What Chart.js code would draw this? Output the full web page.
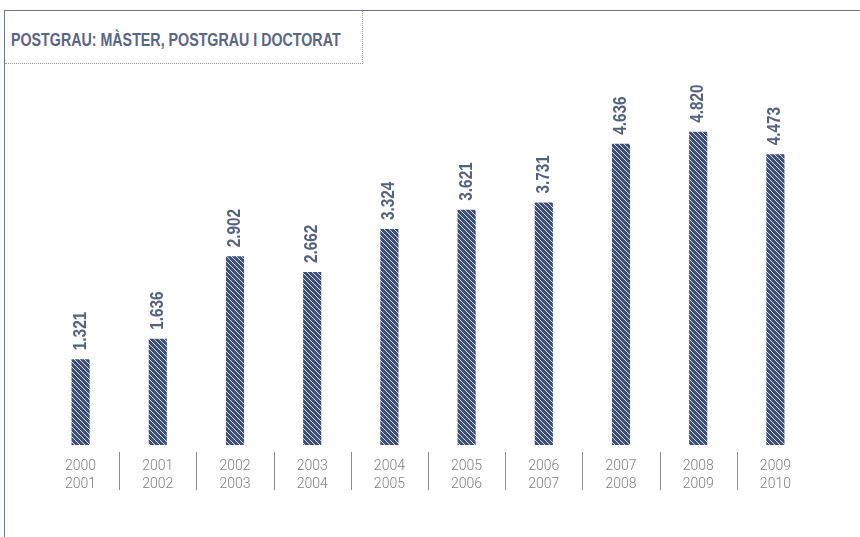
<!DOCTYPE html>
<html>
<head>
<meta charset="utf-8">
<script src="https://cdn.jsdelivr.net/npm/chart.js@4/dist/chart.umd.min.js"></script>
<style>
  html, body { margin: 0; padding: 0; background: #ffffff; }
  #wrap { position: relative; width: 860px; height: 537px; overflow: hidden; }
  #frameTop { position: absolute; left: 4px; top: 10px; width: 856px; height: 0; border-top: 1px solid #6d7391; }
  #frameLeft { position: absolute; left: 4px; top: 10px; width: 0; height: 527px; border-left: 1px solid #6d7391; }
  #titleBox { position: absolute; left: 5px; top: 11px; width: 357px; height: 52px;
              border-right: 1px dotted #9a9a9a; border-bottom: 1px dotted #9a9a9a; }
  #title { position: absolute; left: 11px; top: 30px; margin: 0; line-height: 19px;
           font-family: "Liberation Sans", Arial, sans-serif;
           font-weight: bold; font-size: 19px; color: #5b6585; white-space: nowrap;
           transform: scaleX(0.75); transform-origin: left center; }
  canvas { position: absolute; left: 0; top: 0; }
</style>
</head>
<body>
<div id="wrap">
  <div id="frameTop"></div>
  <div id="frameLeft"></div>
  <div id="titleBox"></div>
  <div id="title">POSTGRAU: MÀSTER, POSTGRAU I DOCTORAT</div>
  <canvas id="c" width="860" height="537"></canvas>
</div>
<script>
const categories = [
  ["2000", "2001"], ["2001", "2002"], ["2002", "2003"], ["2003", "2004"], ["2004", "2005"],
  ["2005", "2006"], ["2006", "2007"], ["2007", "2008"], ["2008", "2009"], ["2009", "2010"]
];
const values = [1321, 1636, 2902, 2662, 3324, 3621, 3731, 4636, 4820, 4473];
const valueLabels = ["1.321", "1.636", "2.902", "2.662", "3.324", "3.621", "3.731", "4.636", "4.820", "4.473"];

function makePattern() {
  const s = 5;
  const p = document.createElement('canvas');
  p.width = s; p.height = s;
  const g = p.getContext('2d');
  g.fillStyle = '#3f5077';
  g.fillRect(0, 0, s, s);
  g.strokeStyle = '#d6dae3';
  g.lineWidth = 1;
  g.beginPath();
  g.moveTo(0, 0); g.lineTo(s, s);
  g.moveTo(-s, 0); g.lineTo(s, 2 * s);
  g.moveTo(0, -s); g.lineTo(2 * s, s);
  g.stroke();
  return g.createPattern(p, 'repeat');
}

const FONT = '"Liberation Sans", Arial, sans-serif';

const valueLabelPlugin = {
  id: 'valueLabels',
  afterDatasetsDraw(chart) {
    const ctx = chart.ctx;
    const meta = chart.getDatasetMeta(0);
    ctx.save();
    ctx.font = 'bold 18px ' + FONT;
    ctx.fillStyle = '#56617f';
    meta.data.forEach((bar, i) => {
      ctx.save();
      ctx.translate(bar.x, bar.y - 9);
      ctx.rotate(-Math.PI / 2);
      ctx.scale(0.85, 1);
      ctx.textAlign = 'left';
      ctx.textBaseline = 'middle';
      ctx.fillText(valueLabels[i], 0, 0);
      ctx.restore();
    });
    ctx.restore();
  }
};

const separatorPlugin = {
  id: 'separators',
  afterDraw(chart) {
    const ctx = chart.ctx;
    const x = chart.scales.x;
    ctx.save();
    ctx.strokeStyle = '#8c8c8c';
    ctx.lineWidth = 1;
    for (let i = 0; i < categories.length - 1; i++) {
      const px = Math.round((x.getPixelForValue(i) + x.getPixelForValue(i + 1)) / 2) + 0.5;
      ctx.beginPath();
      ctx.moveTo(px, chart.chartArea.bottom + 7);
      ctx.lineTo(px, chart.chartArea.bottom + 45);
      ctx.stroke();
    }
    ctx.restore();
  }
};

new Chart(document.getElementById('c'), {
  type: 'bar',
  data: {
    labels: categories,
    datasets: [{
      data: values,
      backgroundColor: makePattern(),
      borderWidth: 0,
      barPercentage: 0.47,
      categoryPercentage: 0.5
    }]
  },
  options: {
    responsive: false,
    animation: false,
    layout: { padding: { left: 42, right: 46, top: 55, bottom: 0 } },
    plugins: { legend: { display: false }, tooltip: { enabled: false }, title: { display: false } },
    scales: {
      y: { display: false, min: 0, max: 6000 },
      x: {
        grid: { display: false, drawTicks: false },
        border: { display: false },
        ticks: { color: '#808080', font: { family: 'Roboto, "Liberation Sans", sans-serif', size: 14, weight: 300, lineHeight: 1.3 }, padding: 12, maxRotation: 0, autoSkip: false },
        afterFit(scale) { scale.height = 92; }
      }
    }
  },
  plugins: [valueLabelPlugin, separatorPlugin]
});
</script>
</body>
</html>
